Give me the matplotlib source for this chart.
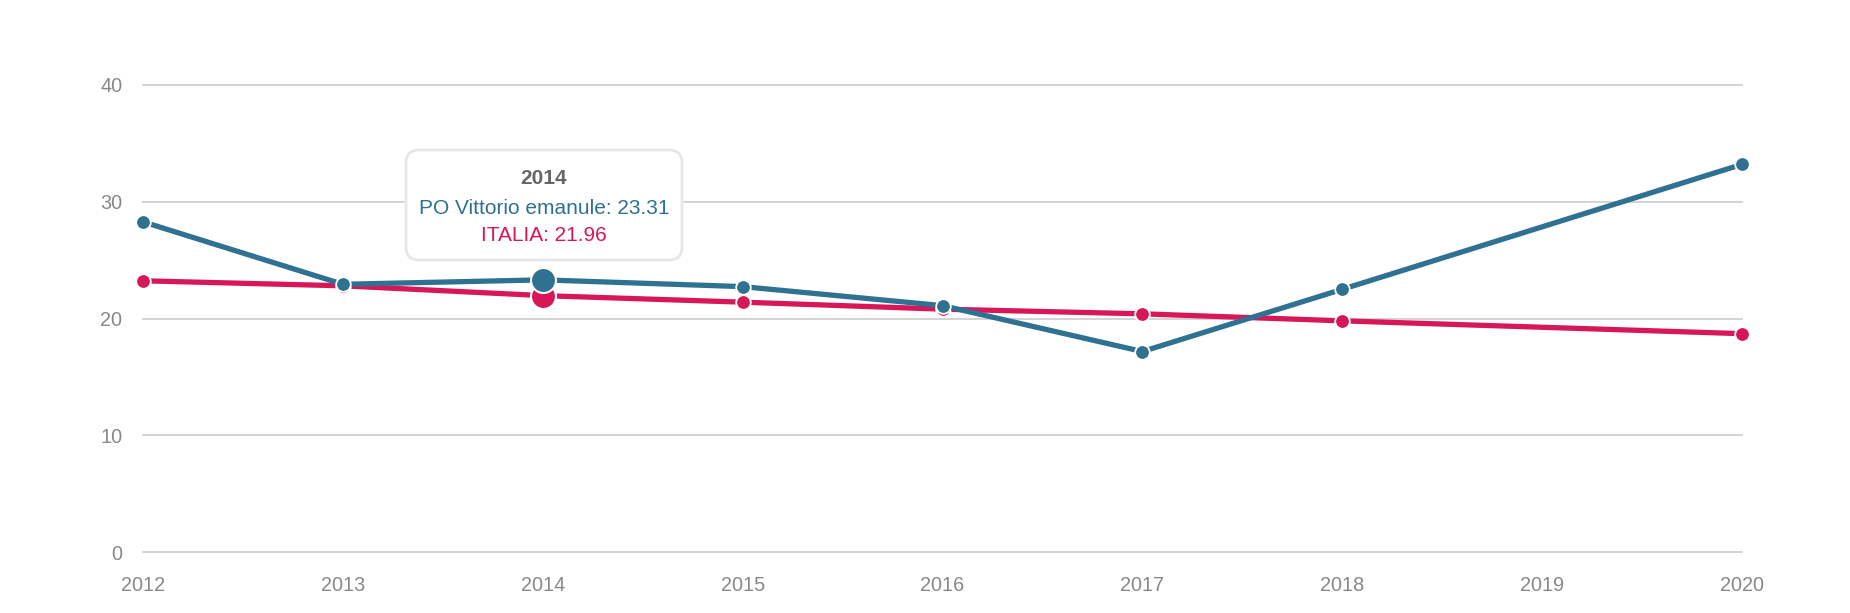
import numpy as np
import matplotlib
matplotlib.use('Agg')
import matplotlib.pyplot as plt
from matplotlib.patches import FancyBboxPatch

plt.rcParams['font.family'] = ['Liberation Sans', 'DejaVu Sans']

# dati
anni = [2012, 2013, 2014, 2015, 2016, 2017, 2018, 2019, 2020]
po_vittorio = [28.28, 22.93, 23.31, 22.73, 21.10, 17.17, 22.50, np.nan, 33.20]
italia = [23.23, 22.80, 21.96, 21.40, 20.80, 20.40, 19.80, np.nan, 18.70]
y_ticks = [0, 10, 20, 30, 40]
anno_evidenziato = 2014

blu = '#2f7190'
rosso = '#d6185a'
grigio = '#888888'

W, H = 1850, 613
fig = plt.figure(figsize=(W / 100, H / 100), dpi=100)
ax = fig.add_axes([143 / W, (H - 552) / H, (1742 - 143) / W, (552 - 85) / H])

x = np.array(anni, dtype=float)
for serie, col, z in [(italia, rosso, 3), (po_vittorio, blu, 4)]:
    y = np.array(serie, dtype=float)
    ok = ~np.isnan(y)
    ax.plot(x[ok], y[ok], color=col, lw=3.8, marker='o', ms=10.5,
            mfc=col, mec='white', mew=1.3, clip_on=False, zorder=z,
            solid_capstyle='round')
    i = anni.index(anno_evidenziato)
    ax.plot([x[i]], [y[i]], 'o', ms=18, mfc=col, mec='white', mew=1.5,
            clip_on=False, zorder=z + 2)

ax.set_xlim(anni[0], anni[-1])
ax.set_ylim(0, 40)
ax.set_yticks(y_ticks)
ax.set_xticks(anni)
ax.set_xticklabels([str(a) for a in anni])
ax.grid(axis='y', color='#cccccc', lw=1.2)
for gl in ax.get_ygridlines():
    gl.set_clip_on(False)
ax.set_axisbelow(True)
for s in ax.spines.values():
    s.set_visible(False)
ax.tick_params(axis='both', length=0, labelsize=14.3, labelcolor=grigio)
ax.tick_params(axis='y', pad=15)
ax.tick_params(axis='x', pad=17.5)

# tooltip
x0, y0 = 406, 150
bw, bh = 682 - 406, 260 - 150
box = FancyBboxPatch((x0 / 100, (H - y0 - bh) / 100), bw / 100, bh / 100,
                     boxstyle='round,pad=0,rounding_size=0.13',
                     transform=fig.dpi_scale_trans, fc='white', ec='#e6e6e6',
                     lw=2, zorder=10)
fig.add_artist(box)
cx = 544 / W
fig.text(cx, (H - 179) / H, '2014', ha='center', va='center', fontsize=15,
         fontweight='bold', color='#666666', zorder=11)
fig.text(cx, (H - 208) / H, 'PO Vittorio emanule: 23.31', ha='center', va='center',
         fontsize=15, color=blu, zorder=11)
fig.text(cx, (H - 235) / H, 'ITALIA: 21.96', ha='center', va='center',
         fontsize=15, color=rosso, zorder=11)

fig.savefig('out.png', dpi=100, facecolor='white')
